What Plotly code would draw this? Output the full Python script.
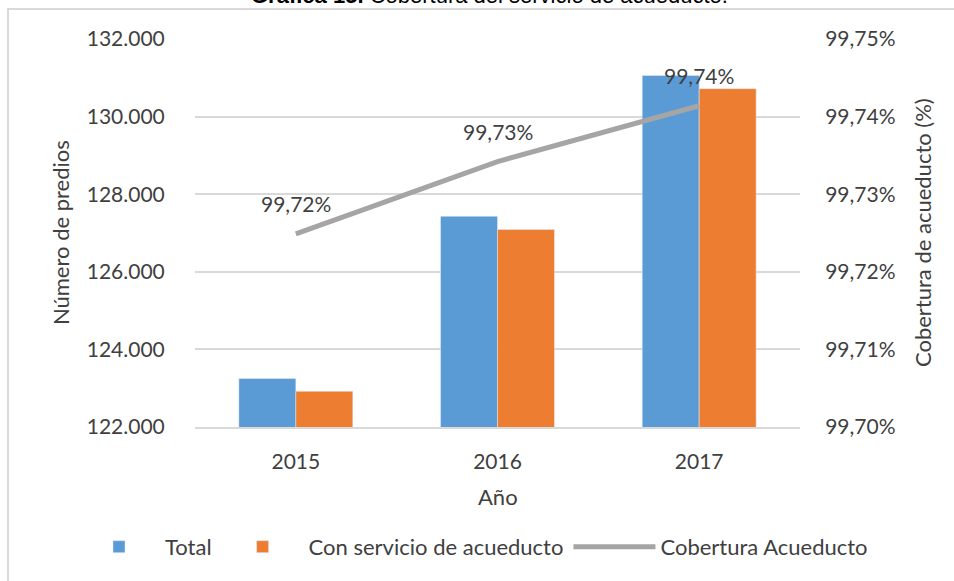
import plotly.graph_objects as go

# data
years = ["2015", "2016", "2017"]
total = [123250, 127430, 131060]
con_servicio = [122920, 127090, 130720]
cobertura = [99.7249, 99.7342, 99.7414]
cobertura_labels = ["99,72%", "99,73%", "99,74%"]

FONT = "Lato"
TXT = "#404040"
GRID = "#d9d9d9"
CLEAR = "rgba(0,0,0,0)"

fig = go.Figure()
fig.add_bar(x=years, y=total, name="Total", marker_color="#5b9bd5")
fig.add_bar(x=years, y=con_servicio, name="Con servicio de acueducto", marker_color="#ed7d31")
fig.add_scatter(x=years, y=cobertura, yaxis="y2", mode="lines", name="Cobertura Acueducto",
                line=dict(color="#a5a5a5", width=5))

# data labels above the coverage line (category index, so "2015" isn't read as a number)
for i, (val, lab) in enumerate(zip(cobertura, cobertura_labels)):
    fig.add_annotation(x=i, y=val, yref="y2", text=lab, showarrow=False,
                       yshift=30, font=dict(size=21, color=TXT, family=FONT))

# axis titles, chart title
fig.add_annotation(x=-0.223, y=0.5, xref="paper", yref="paper", xanchor="center",
                   text="Número de predios", textangle=-90, showarrow=False,
                   font=dict(size=22, color=TXT, family=FONT))
fig.add_annotation(x=1.2017, y=0.5, xref="paper", yref="paper", xanchor="center",
                   text="Cobertura de acueducto (%)", textangle=-90, showarrow=False,
                   font=dict(size=22, color=TXT, family=FONT))
fig.add_annotation(x=0.5, y=-0.18, xref="paper", yref="paper", xanchor="center",
                   yanchor="middle", text="Año", showarrow=False,
                   font=dict(size=22, color=TXT, family=FONT))
fig.add_annotation(x=0.4876, y=1.0747, xref="paper", yref="paper", xanchor="center",
                   yanchor="bottom", text="<b>Gráfica 15.</b> Cobertura del servicio de acueducto.",
                   showarrow=False, font=dict(size=22, color="#000000", family="Liberation Sans"))

# chart border
fig.add_shape(type="rect", xref="paper", yref="paper",
              x0=(8 - 195) / 605, x1=(960 - 195) / 605, y0=(427 - 600) / 388, y1=(427 - 9) / 388,
              line=dict(color=GRID, width=2), layer="below")

fig.layout.width = 954
fig.layout.height = 581
fig.layout.margin = dict(l=195, r=154, t=39, b=154, autoexpand=False)
fig.layout.paper_bgcolor = "white"
fig.layout.plot_bgcolor = "white"
fig.layout.separators = ",."
fig.layout.font = dict(family=FONT, size=21, color=TXT)
fig.layout.barmode = "group"
fig.layout.bargap = 0.435
fig.layout.bargroupgap = 0
fig.layout.showlegend = True
fig.layout.legend = dict(orientation="h", x=(73 - 195) / 605, xanchor="left", y=-0.309,
                         yanchor="middle", font=dict(size=22, color=TXT, family=FONT),
                         traceorder="normal", itemwidth=82)

fig.layout.xaxis = dict(type="category", showline=True, linecolor=GRID, linewidth=2,
                        ticks="outside", ticklen=15, tickcolor=CLEAR, showgrid=False,
                        automargin=False)
fig.layout.yaxis = dict(range=[122000, 132000], dtick=2000, tickformat=",d", showgrid=True,
                        gridcolor=GRID, gridwidth=2, zeroline=False, showline=False,
                        ticks="outside", ticklen=25, tickcolor=CLEAR, automargin=False)
fig.layout.yaxis2 = dict(range=[99.70, 99.75], dtick=0.01, tickformat=".2f", ticksuffix="%",
                         overlaying="y", side="right", showgrid=False, zeroline=False,
                         showline=False, ticks="outside", ticklen=20, tickcolor=CLEAR,
                         automargin=False)

# the page body has a default 8px margin; drop it so the figure sits at the window corner
fig.write_html("out.html", config={"displayModeBar": False},
               post_script="document.body.style.margin='0';")
